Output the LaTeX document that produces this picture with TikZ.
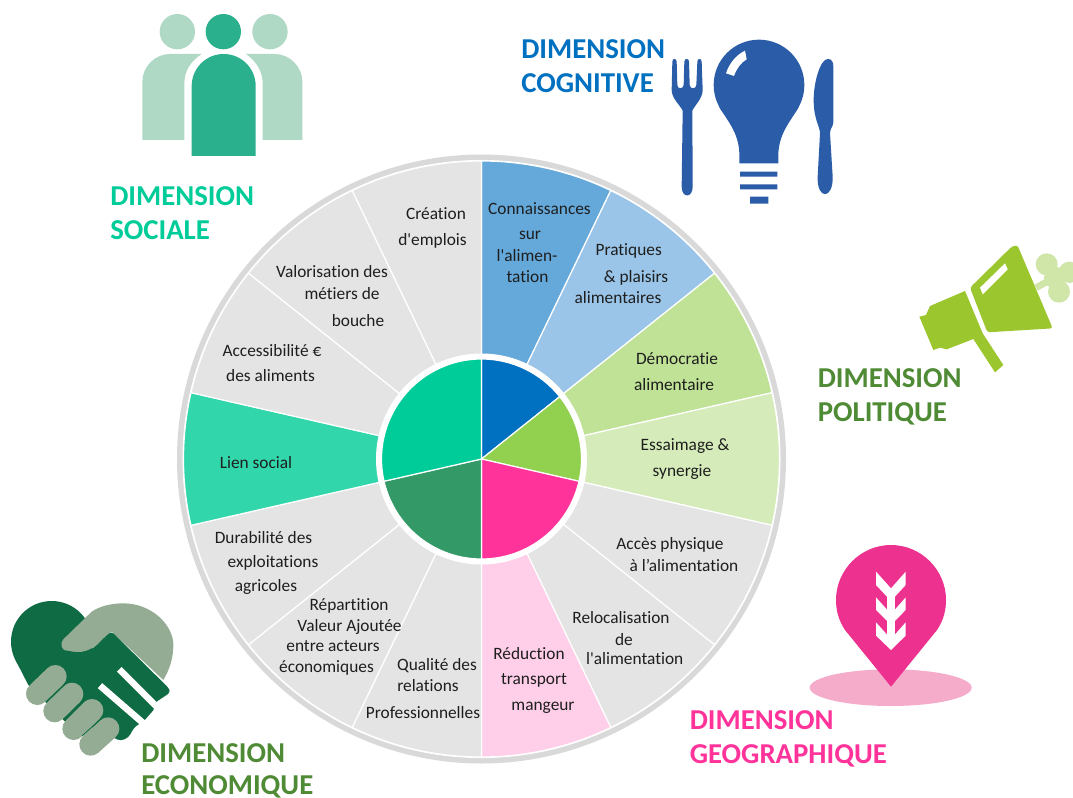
\documentclass[tikz,border=0pt]{standalone}
\usepackage{fontspec}
\setmainfont{Carlito}[Ligatures={TeXOff,NoCommon}]
\definecolor{ringgray}{HTML}{D9D9D9}
\definecolor{seggray}{HTML}{E4E4E4}
\definecolor{txt}{HTML}{1E1E1E}
\definecolor{blueA}{HTML}{65A8DA}
\definecolor{blueB}{HTML}{9AC5E8}
\definecolor{greenA}{HTML}{BFE296}
\definecolor{greenB}{HTML}{D5ECBA}
\definecolor{pinkA}{HTML}{FFCEE8}
\definecolor{tealA}{HTML}{32D6AB}
\definecolor{cBlue}{HTML}{0070C0}
\definecolor{cGreen}{HTML}{92D050}
\definecolor{cPink}{HTML}{FF3399}
\definecolor{cDark}{HTML}{339966}
\definecolor{cTeal}{HTML}{00CC99}
\definecolor{titleGreen}{HTML}{4F8A35}
\definecolor{soc}{HTML}{2BB08D}
\definecolor{socL}{HTML}{AFD9C4}
\definecolor{cog}{HTML}{2A5CA8}
\definecolor{pol}{HTML}{9BC62D}
\definecolor{polL}{HTML}{D0E5A8}
\definecolor{geo}{HTML}{EC318F}
\definecolor{geoL}{HTML}{F5ACCB}
\definecolor{eco}{HTML}{0F6B43}
\definecolor{ecoL}{HTML}{93AC93}
\tikzset{
  lbl/.style={anchor=base,inner sep=0pt,text=txt,font=\fontsize{13}{15}\selectfont},
  dimtitle/.style={anchor=north west,inner sep=0pt,align=left,font=\fontsize{21.6}{25.5}\selectfont\bfseries},
  dimtitletight/.style={dimtitle,font=\fontsize{21.6}{24}\selectfont\bfseries},
  wedge/.style={draw=white,line width=0.9pt,line join=round},
  micon/.style={x=0.25pt,y=-0.25pt},
}
\newcommand{\wseg}[3]{\path[wedge,fill=#3] (0,0) -- (#1:298) arc[start angle=#1,end angle=#2,radius=298] -- cycle;}
\newcommand{\cseg}[3]{\path[wedge,fill=#3] (0,0) -- (#1:100) arc[start angle=#1,end angle=#2,radius=100] -- cycle;}
\begin{document}
\begin{tikzpicture}[x=0.75pt,y=-0.75pt]
\clip (0,0) rectangle (1073,798);
\fill[white] (0,0) rectangle (1073,798);
% wheel
\begin{scope}[shift={(481.5,459)},y=0.75pt]
  \fill[ringgray] (0,0) circle[radius=304.5];
  \fill[white] (0,0) circle[radius=299];
  \wseg{90}{64.29}{blueA}
  \wseg{64.29}{38.57}{blueB}
  \wseg{38.57}{12.86}{greenA}
  \wseg{12.86}{-12.86}{greenB}
  \wseg{-12.86}{-38.57}{seggray}
  \wseg{-38.57}{-64.29}{seggray}
  \wseg{-64.29}{-90}{pinkA}
  \wseg{-90}{-115.71}{seggray}
  \wseg{-115.71}{-141.43}{seggray}
  \wseg{-141.43}{-167.14}{seggray}
  \wseg{-167.14}{-192.86}{tealA}
  \wseg{167.14}{141.43}{seggray}
  \wseg{141.43}{115.71}{seggray}
  \wseg{115.71}{90}{seggray}
  \fill[white] (0,0) circle[radius=105.5];
  \cseg{90}{38.57}{cBlue}
  \cseg{38.57}{-12.86}{cGreen}
  \cseg{-12.86}{-90}{cPink}
  \cseg{-90}{-167.14}{cDark}
  \cseg{-167.14}{-270}{cTeal}
\end{scope}
% wheel labels
\node[lbl] (a1) at (436,220) {Création};
\node[lbl] (a2) at (432.5,245.5) {d'emplois};
\node[lbl] (b1) at (332,277) {Valorisation des};
\node[lbl] (b2) at (342,300) {métiers de};
\node[lbl] (b3) at (358,326) {bouche};
\node[lbl] (c1) at (272,356) {Accessibilité €};
\node[lbl] (c2) at (270.5,381) {des aliments};
\node[lbl] (d1) at (256,468.5) {Lien social};
\node[lbl] (e1) at (263.5,543) {Durabilité des};
\node[lbl] (e2) at (273,567) {exploitations};
\node[lbl] (e3) at (266,591) {agricoles};
\node[lbl] (f1) at (349,610) {Répartition};
\node[lbl] (f2) at (349.5,631) {Valeur Ajoutée};
\node[lbl] (f3) at (333,651) {entre acteurs};
\node[lbl] (f4) at (326.5,672) {économiques};
\node[lbl] (g1) at (437,670) {Qualité des};
\node[lbl] (g2) at (428,691) {relations};
\node[lbl] (g3) at (423,718) {Professionnelles};
\node[lbl] (h1) at (529,659) {Réduction};
\node[lbl] (h2) at (534,684) {transport};
\node[lbl] (h3) at (543,710) {mangeur};
\node[lbl] (i1) at (621,623) {Relocalisation};
\node[lbl] (i2) at (624,645) {de};
\node[lbl] (i3) at (634.7,664) {l'alimentation};
\node[lbl] (j1) at (670,549.5) {Accès physique};
\node[lbl] (j2) at (684,571.5) {à l’alimentation};
\node[lbl] (k1) at (685,450) {Essaimage \&};
\node[lbl] (k2) at (682,476) {synergie};
\node[lbl] (l1) at (677,364) {Démocratie};
\node[lbl] (l2) at (674,390) {alimentaire};
\node[lbl] (m1) at (628.7,255.5) {Pratiques};
\node[lbl] (m2) at (636,282) {\& plaisirs};
\node[lbl] (m3) at (618,304) {alimentaires};
\node[lbl] (n1) at (539.5,215) {Connaissances};
\node[lbl] (n2) at (530,240) {sur};
\node[lbl] (n3) at (527,261.5) {l'alimen-};
\node[lbl] (n4) at (527.5,282.5) {tation};
% titles
\node[dimtitle,text=cBlue] (tcog) at (521,39) {DIMENSION\\COGNITIVE};
\node[dimtitle,text=cTeal] (tsoc) at (110,186) {DIMENSION\\SOCIALE};
\node[dimtitle,text=titleGreen] (tpol) at (817.5,368) {DIMENSION\\POLITIQUE};
\node[dimtitle,text=cPink] (tgeo) at (689.5,710) {DIMENSION\\GEOGRAPHIQUE};
\node[dimtitletight,text=titleGreen] (teco) at (141,743) {DIMENSION\\ECONOMIQUE};
% social icon
\begin{scope}[shift={(120,0)},micon]
  \fill[socL] (172,95) circle[radius=53] (450,95) circle[radius=53];
  \fill[socL] (67,420) -- (67,245) .. controls (67,200) and (105,162) .. (150,162) -- (245,162)
     .. controls (210,185) and (193,215) .. (193,250) -- (193,420) -- cycle;
  \fill[socL] (547,420) -- (547,245) .. controls (547,200) and (509,162) .. (464,162) -- (378,162)
     .. controls (410,185) and (428,215) .. (428,250) -- (428,420) -- cycle;
  \fill[soc] (310,95) circle[radius=53];
  \fill[soc] (215,468) -- (215,258) .. controls (215,205) and (258,162) .. (311,162)
     .. controls (364,162) and (407,205) .. (407,258) -- (407,468) -- cycle;
\end{scope}
% cognitive icon
\begin{scope}[shift={(660,30)},micon]
  \fill[cog] (297,165) circle[radius=136];
  \fill[cog] (238,400) -- (238,370) .. controls (236,310) and (205,275) .. (178,232) -- (416,232)
     .. controls (390,275) and (358,310) .. (355,370) -- (355,400) -- cycle;
  \fill[cog] (240,425) rectangle (352,440) (240,463) rectangle (352,478) (270,500) rectangle (325,521);
  \fill[white] (198,130) .. controls (208,100) and (228,75) .. (255,62) -- (260,88)
     .. controls (243,98) and (230,115) .. (222,138) -- cycle;
  % fork
  \fill[cog] (37,95) .. controls (37,84) and (50,84) .. (50,95) -- (52,165) .. controls (52,178) and (70,178) .. (71,165)
     -- (73,95) .. controls (73,84) and (87,84) .. (87,95) -- (89,165) .. controls (90,178) and (108,178) .. (109,165)
     -- (112,95) .. controls (112,84) and (125,84) .. (125,95) -- (128,180) .. controls (128,205) and (105,225) .. (97,242)
     -- (98,470) .. controls (98,505) and (65,505) .. (65,470) -- (68,242)
     .. controls (60,225) and (35,205) .. (35,180) -- cycle;
  % knife
  \fill[cog] (520,110) -- (520,275) .. controls (520,290) and (510,295) .. (510,310) -- (518,440)
     .. controls (520,510) and (470,510) .. (473,440) -- (480,310) .. controls (480,290) and (462,270) .. (461,215)
     .. controls (460,160) and (480,88) .. (503,87) .. controls (515,87) and (520,95) .. (520,110) -- cycle;
\end{scope}
% political icon
\begin{scope}[shift={(910,235)},micon]
  \fill[polL] (410,88) circle[radius=33] (478,112) circle[radius=32] (447,170) circle[radius=33] (435,128) circle[radius=33];
  \draw[polL,line width=5pt] (378,158) -- (430,130);
  \fill[pol,rounded corners=2pt] (180,158) -- (305,35) -- (322,30) -- (428,280) -- (232,292) -- cycle;
  \fill[white] (210,158) -- (285,85) -- (293,103) -- (218,178) -- cycle;
  \fill[pol] (165,168) -- (60,213) -- (48,240) -- (28,245) -- (70,345) -- (90,338) -- (110,343) -- (190,312)
     -- (255,412) -- (280,390) -- (218,295) -- cycle;
\end{scope}
% geographic icon
\begin{scope}[shift={(800,535)},micon]
  \fill[geoL] (272,458) ellipse[x radius=243,y radius=55];
  \fill[geo] (273,455) -- (135,285) .. controls (115,255) and (108,225) .. (108,195)
     .. controls (108,105) and (182,30) .. (273,30) .. controls (364,30) and (438,105) .. (438,195)
     .. controls (438,225) and (431,255) .. (411,285) -- cycle;
  \fill[white] (262,170) rectangle (285,320);
  \fill[white] (228,110) -- (273,160) -- (317,110) -- (317,150) -- (273,198) -- (228,150) -- cycle;
  \fill[white] (228,187) -- (273,237) -- (317,187) -- (317,225) -- (273,270) -- (228,225) -- cycle;
  \fill[white] (228,262) -- (273,312) -- (317,262) -- (317,302) -- (273,345) -- (228,302) -- cycle;
\end{scope}
% economic icon
\begin{scope}[shift={(0,590)},micon]
  \fill[eco] (155,155) circle[radius=122];
  \fill[eco] (45,207) -- (85,285) -- (240,440) -- (300,300) -- (250,100) -- cycle;
  \fill[ecoL] (275,65) .. controls (300,48) and (335,40) .. (370,40) .. controls (455,40) and (520,105) .. (520,165)
     .. controls (520,205) and (508,240) .. (490,270) -- (335,125) .. controls (300,150) and (285,185) .. (230,187)
     -- (205,185) .. controls (185,182) and (178,165) .. (190,148) -- cycle;
  \fill[eco,rounded corners=2pt] (190,180) -- (230,187) .. controls (285,185) and (300,150) .. (335,125) -- (507,295) -- (510,308) -- (455,345) -- (465,355) -- (430,395) -- (405,410) -- (395,425)
     .. controls (385,445) and (365,455) .. (345,445) -- (250,400) -- (130,280) -- cycle;
  \draw[white,line width=5pt] (358,238) -- (470,350);
  \draw[white,line width=5pt] (300,287) -- (428,398);
  \draw[ecoL,line width=17pt,line cap=round] (112,311) -- (166,259);
  \draw[ecoL,line width=17pt,line cap=round] (164,363) -- (216,312);
  \draw[ecoL,line width=17pt,line cap=round] (221,416) -- (276,361);
  \draw[ecoL,line width=17pt,line cap=round] (272,463) -- (324,416);
  \draw[eco,line width=0.7pt] (138,336) -- (195,283);
  \draw[eco,line width=0.7pt] (192,388) -- (250,335);
  \draw[eco,line width=0.7pt] (247,437) -- (305,385);
\end{scope}
\end{tikzpicture}
\end{document}
